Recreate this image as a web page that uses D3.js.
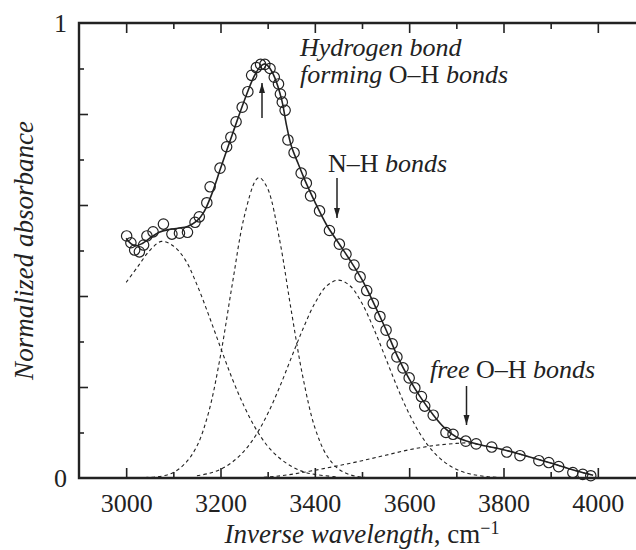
<!DOCTYPE html>
<html>
<head>
<meta charset="utf-8">
<script src="https://cdn.jsdelivr.net/npm/d3@7"></script>
<style>
  body { margin: 0; background: #fff; }
  svg text { font-family: "Liberation Serif", "DejaVu Serif", serif; fill: #222; }
</style>
</head>
<body>
<svg id="chart" width="636" height="550"></svg>
<script>
// ---- data ----
const circleWave = [3001,3010,3018,3028,3037,3044,3057,3079,3097,3113,3130,3146,3155,3171,3178,3199,3213,3222,3233,3246,3258,3266,3276,3285,3294,3305,3314,3323,3327,3331,3337,3343,3356,3371,3382,3391,3410,3431,3452,3466,3483,3496,3510,3524,3538,3551,3564,3574,3587,3600,3612,3626,3633,3651,3678,3693,3720,3742,3775,3807,3835,3875,3896,3917,3947,3968,3985];
const circleAbs  = [0.532,0.517,0.501,0.497,0.512,0.532,0.541,0.558,0.536,0.538,0.540,0.562,0.574,0.605,0.640,0.681,0.728,0.749,0.783,0.815,0.849,0.885,0.902,0.909,0.909,0.900,0.881,0.866,0.844,0.826,0.808,0.743,0.715,0.670,0.648,0.620,0.587,0.544,0.514,0.492,0.468,0.442,0.412,0.384,0.355,0.325,0.295,0.266,0.242,0.220,0.198,0.179,0.158,0.138,0.100,0.096,0.081,0.075,0.068,0.057,0.049,0.038,0.034,0.025,0.012,0.008,0.005];

const fitWave = [3000,3010,3020,3035,3050,3070,3090,3110,3130,3150,3165,3180,3200,3225,3250,3270,3285,3295,3305,3315,3330,3340,3350,3365,3380,3400,3425,3450,3475,3500,3525,3550,3575,3600,3625,3650,3675,3700,3725,3750,3800,3850,3900,3950,3990];
const fitAbs  = [0.527,0.515,0.510,0.516,0.527,0.540,0.546,0.549,0.553,0.565,0.585,0.620,0.680,0.755,0.828,0.880,0.905,0.910,0.900,0.880,0.830,0.775,0.730,0.690,0.652,0.607,0.556,0.517,0.478,0.436,0.384,0.328,0.268,0.218,0.176,0.140,0.110,0.090,0.080,0.073,0.062,0.048,0.033,0.017,0.006];

const band1Wave = [3000,3025,3050,3075,3100,3125,3150,3175,3200,3225,3250,3275,3300,3325,3350,3375,3400,3450];
const band1Abs  = [0.430,0.465,0.500,0.520,0.510,0.480,0.425,0.358,0.287,0.218,0.158,0.108,0.070,0.044,0.026,0.014,0.008,0.002];

const band2Wave = [3040,3075,3100,3125,3150,3175,3200,3225,3250,3275,3283,3300,3325,3350,3375,3400,3425,3450,3475,3500,3525];
const band2Abs  = [0.001,0.004,0.012,0.032,0.070,0.145,0.269,0.426,0.573,0.655,0.660,0.636,0.525,0.368,0.220,0.111,0.050,0.020,0.007,0.002,0.000];

const band3Wave = [3150,3175,3200,3225,3250,3275,3300,3325,3350,3375,3400,3425,3450,3475,3500,3525,3550,3575,3600,3625,3650,3675,3700,3725,3750,3775,3800];
const band3Abs  = [0.005,0.010,0.019,0.035,0.059,0.094,0.141,0.199,0.264,0.328,0.384,0.422,0.435,0.422,0.384,0.328,0.264,0.199,0.141,0.094,0.059,0.035,0.019,0.010,0.005,0.002,0.001];

const band4Wave = [3250,3300,3350,3400,3450,3500,3550,3600,3650,3700,3725,3750,3800,3850,3900,3950,3990];
const band4Abs  = [0.000,0.002,0.008,0.017,0.027,0.038,0.050,0.062,0.071,0.076,0.077,0.073,0.062,0.048,0.033,0.017,0.006];

const xMajorTicks = [3000,3200,3400,3600,3800,4000];
const xMinorTicks = [3100,3300,3500,3700,3900];
const yMajorTicks = [0.2,0.4,0.6,0.8];
const yMinorTicks = [0.1,0.3,0.5,0.7,0.9];
const yLabels = [0,1];

// ---- layout ----
const svg = d3.select("#chart");
const mLeft = 79, mTop = 23, mBottom = 478;
const x = d3.scaleLinear().domain([2900, 4100]).range([mLeft, 645]);
const y = d3.scaleLinear().domain([0, 1]).range([mBottom, mTop]);

const ink = "#222";

// dashed band components
const bands = [[band1Wave, band1Abs],[band2Wave, band2Abs],[band3Wave, band3Abs],[band4Wave, band4Abs]];
const smoothLine = d3.line().x(d => x(d[0])).y(d => y(d[1])).curve(d3.curveCatmullRom.alpha(0.5));
bands.forEach(([w, a]) => {
  svg.append("path")
    .attr("d", smoothLine(w.map((v, i) => [v, a[i]])))
    .attr("fill", "none").attr("stroke", ink).attr("stroke-width", 1.1)
    .attr("stroke-dasharray", "3.5,3");
});

// fit line
svg.append("path")
  .attr("d", smoothLine(fitWave.map((v, i) => [v, fitAbs[i]])))
  .attr("fill", "none").attr("stroke", ink).attr("stroke-width", 1.6);

// circles
svg.append("g").selectAll("circle")
  .data(circleWave.map((v, i) => [v, circleAbs[i]]))
  .join("circle")
  .attr("cx", d => x(d[0])).attr("cy", d => y(d[1])).attr("r", 5.2)
  .attr("fill", "none").attr("stroke", ink).attr("stroke-width", 1.2);

// axes (ticks pointing inward)
function styleAxis(g) {
  g.select(".domain").remove();
  g.selectAll(".tick line").attr("stroke", ink).attr("stroke-width", 1.6);
  g.selectAll(".tick text").attr("fill", ink).style("font-size", "26px");
}
svg.append("g").attr("transform", `translate(0,${mBottom})`)
  .call(d3.axisBottom(x).tickValues(xMajorTicks).tickSize(-10).tickPadding(16).tickFormat(d3.format("d")))
  .call(styleAxis);
svg.append("g").attr("transform", `translate(0,${mBottom})`)
  .call(d3.axisBottom(x).tickValues(xMinorTicks).tickSize(-6).tickFormat(""))
  .call(styleAxis);
svg.append("g").attr("transform", `translate(0,${mTop})`)
  .call(d3.axisTop(x).tickValues(xMajorTicks).tickSize(-10).tickFormat(""))
  .call(styleAxis);
svg.append("g").attr("transform", `translate(0,${mTop})`)
  .call(d3.axisTop(x).tickValues(xMinorTicks).tickSize(-6).tickFormat(""))
  .call(styleAxis);
svg.append("g").attr("transform", `translate(${mLeft},0)`)
  .call(d3.axisLeft(y).tickValues(yMajorTicks).tickSize(-9).tickFormat(""))
  .call(styleAxis);
svg.append("g").attr("transform", `translate(${mLeft},0)`)
  .call(d3.axisLeft(y).tickValues(yMinorTicks).tickSize(-5).tickFormat(""))
  .call(styleAxis);
svg.append("g").attr("transform", `translate(${mLeft},0)`)
  .call(d3.axisLeft(y).tickValues(yLabels).tickSize(0).tickPadding(12).tickFormat(d3.format("d")))
  .call(styleAxis);

// frame
svg.append("path")
  .attr("d", `M${x.range()[1]},${mTop}H${mLeft}V${mBottom}H${x.range()[1]}`)
  .attr("fill", "none").attr("stroke", ink).attr("stroke-width", 2.4);

// axis titles
const xt = svg.append("text").attr("x", 362).attr("y", 543).attr("text-anchor", "middle").style("font-size", "27px");
xt.append("tspan").style("font-style", "italic").text("Inverse wavelength");
xt.append("tspan").text(", cm");
xt.append("tspan").attr("dy", -9).style("font-size", "18px").text("\u22121");

svg.append("text")
  .attr("transform", `translate(33,${(mTop + mBottom) / 2}) rotate(-90)`)
  .attr("text-anchor", "middle").style("font-size", "27px").style("font-style", "italic")
  .text("Normalized absorbance");

// annotations
function label(xp, yp, parts) {
  const t = svg.append("text").attr("x", xp).attr("y", yp).style("font-size", "26px");
  parts.forEach(([s, it]) => t.append("tspan").style("font-style", it ? "italic" : "normal").text(s));
}
label(300, 56, [["Hydrogen bond", true]]);
label(300, 83, [["forming ", true], ["O\u2013H", false], [" bonds", true]]);
label(328, 172, [["N\u2013H", false], [" bonds", true]]);
label(430, 378, [["free", true], [" O\u2013H ", false], ["bonds", true]]);

svg.append("defs").append("marker")
  .attr("id", "head").attr("viewBox", "0 0 10 10").attr("refX", 10).attr("refY", 5)
  .attr("markerWidth", 10).attr("markerHeight", 10).attr("markerUnits", "userSpaceOnUse")
  .attr("orient", "auto")
  .append("path").attr("d", "M0,2 L10,5 L0,8 Z").attr("fill", ink);

function arrow(x1, y1, x2, y2) {
  svg.append("line").attr("x1", x1).attr("y1", y1).attr("x2", x2).attr("y2", y2)
    .attr("stroke", ink).attr("stroke-width", 1.5).attr("marker-end", "url(#head)");
}
arrow(262, 118, 262, 83);
arrow(337, 178, 337, 218);
arrow(466.5, 386, 466.5, 425);
</script>
</body>
</html>
